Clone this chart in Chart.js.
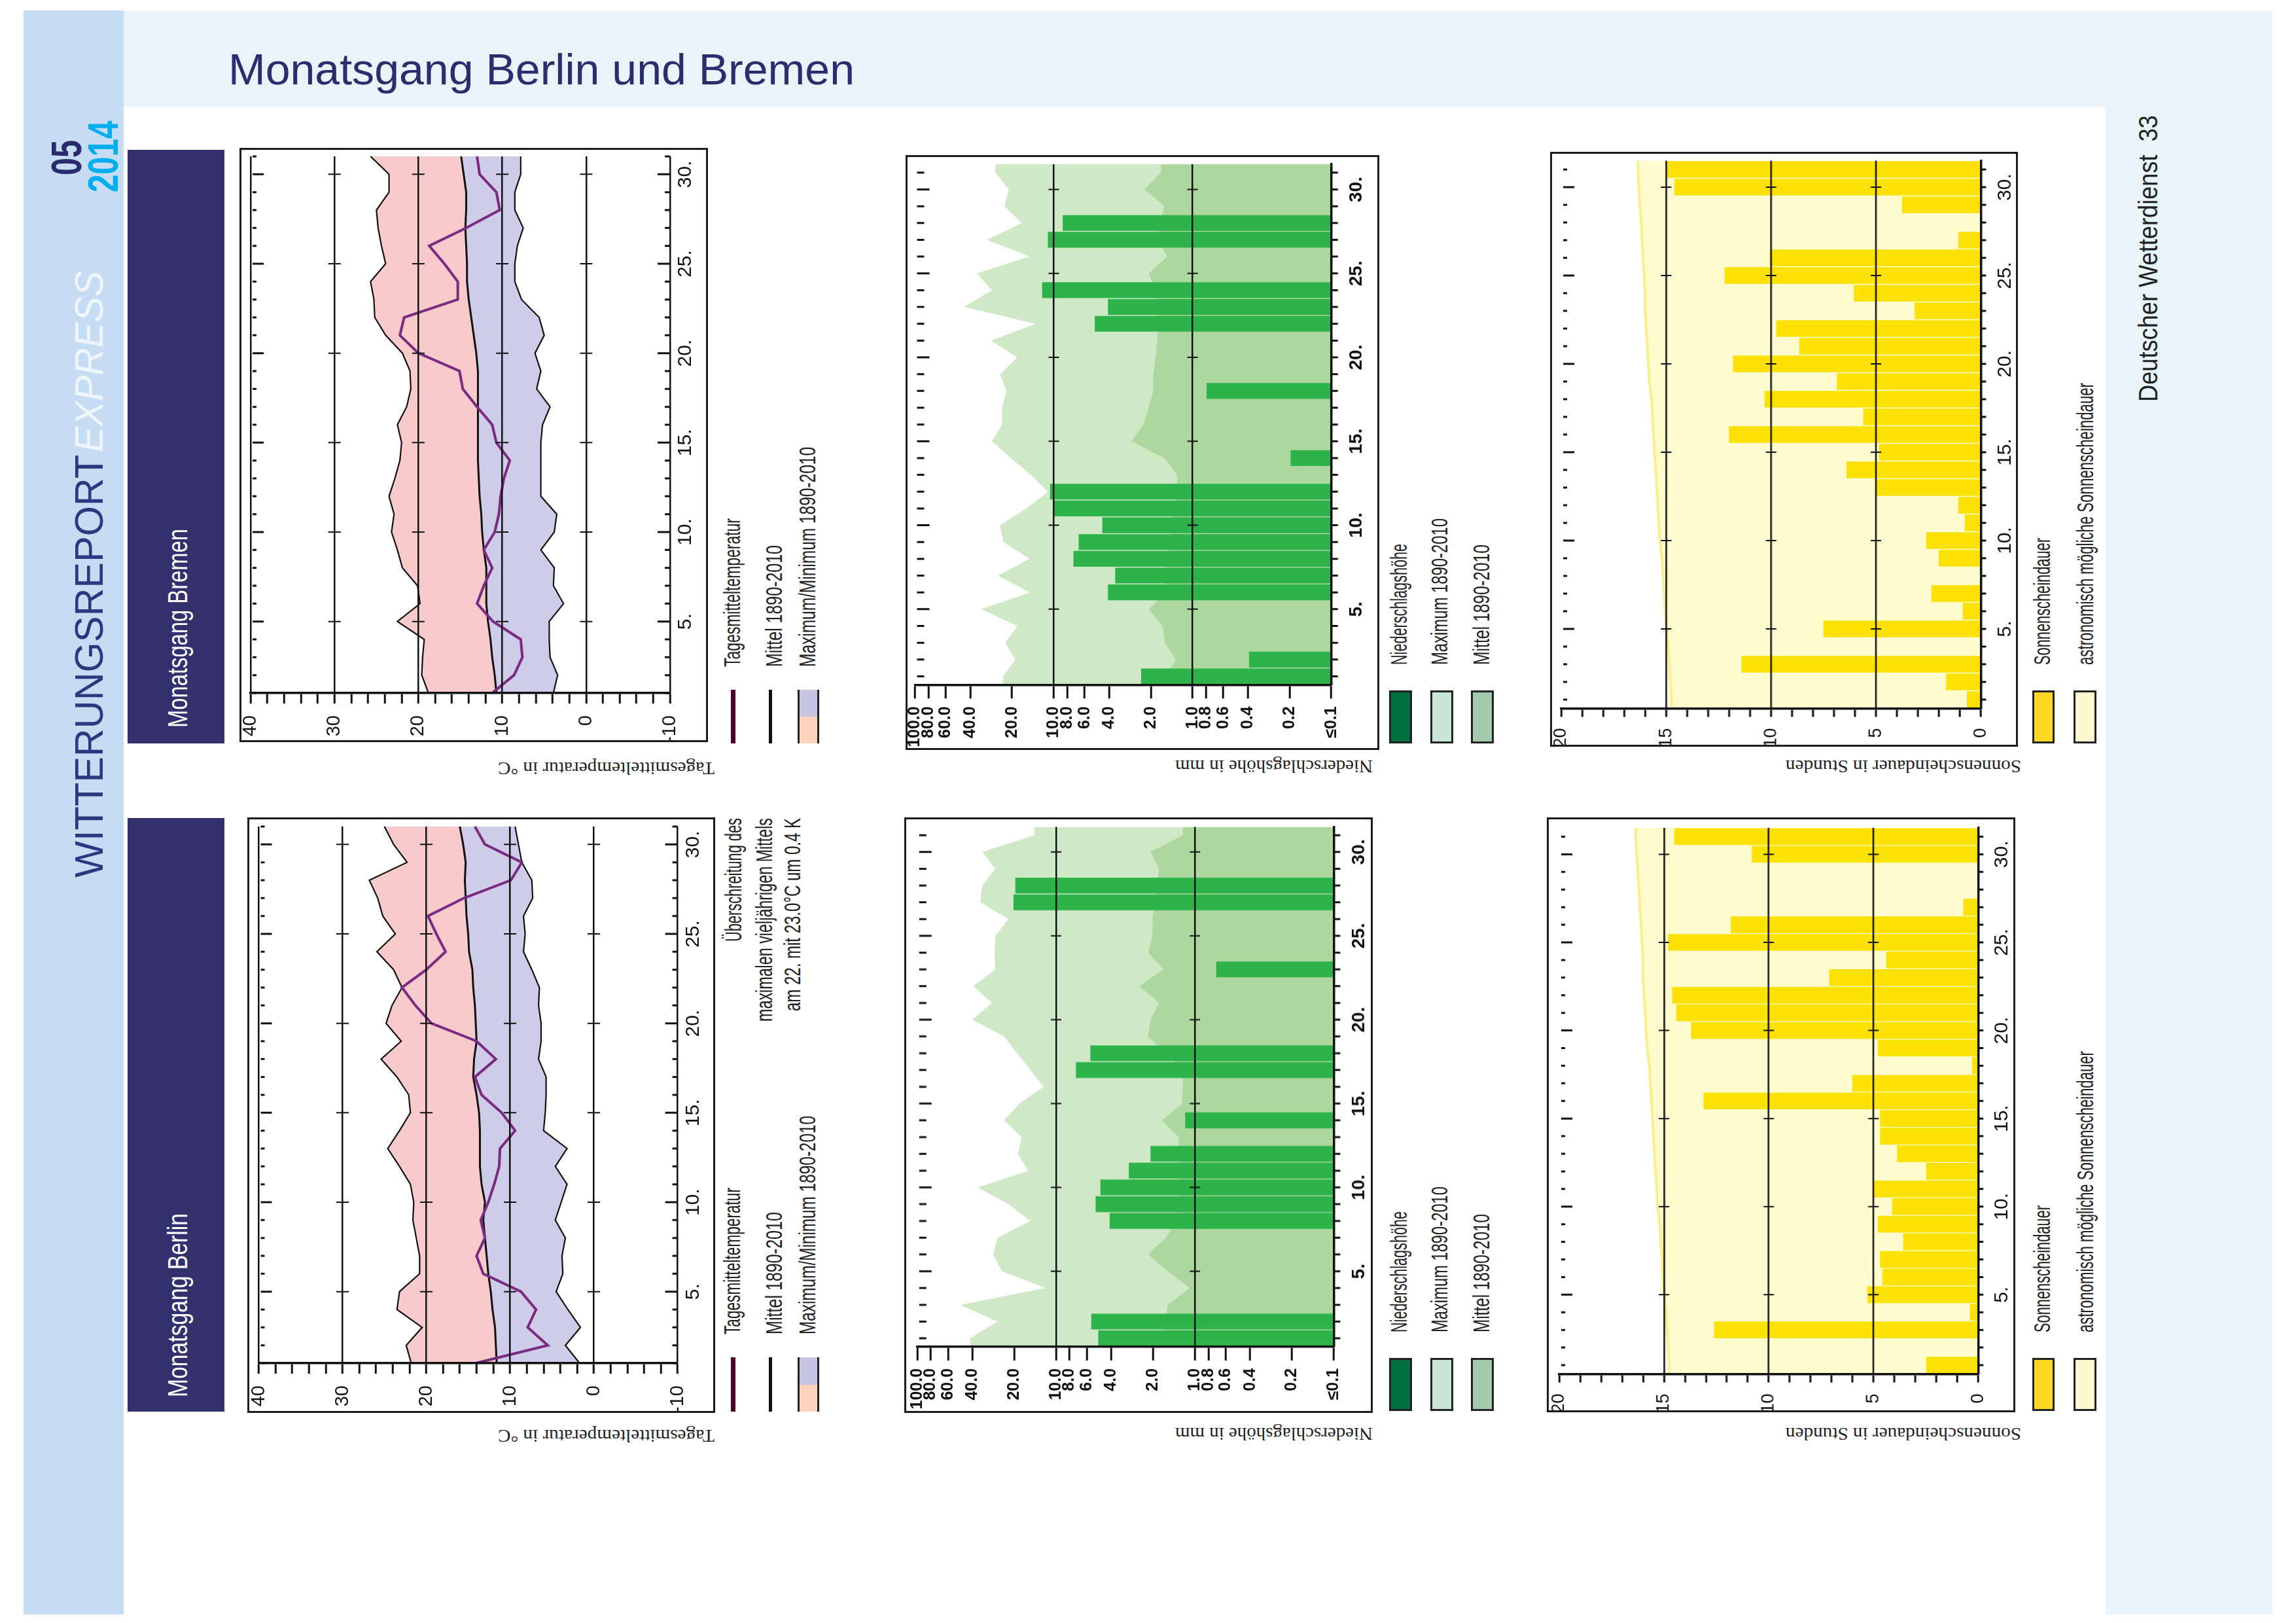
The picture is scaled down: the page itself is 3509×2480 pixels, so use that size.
<!DOCTYPE html>
<html lang="de"><head><meta charset="utf-8"><title>Monatsgang Berlin und Bremen</title>
<script src="https://cdn.jsdelivr.net/npm/chart.js@4"></script>
<style>
html,body{margin:0;padding:0;background:#fff;width:3509px;height:2480px;overflow:hidden}
#page{position:relative;width:3509px;height:2480px;overflow:hidden}
.r{position:absolute}
.t{position:absolute;white-space:pre;line-height:1;transform-origin:0 0}
canvas{position:absolute;display:block}
</style></head><body><div id="page"></div>
<script>
// ---------- data ----------
const days=[1,2,3,4,5,6,7,8,9,10,11,12,13,14,15,16,17,18,19,20,21,22,23,24,25,26,27,28,29,30,31];
const dayLabels={5:'5.',10:'10.',15:'15.',20:'20.',25:'25.',30:'30.'};
const tempTickLabels={40:'40',30:'30',20:'20',10:'10',0:'0','-10':'-10'};
const precipTicks=[0.1,0.2,0.4,0.6,0.8,1,2,4,6,8,10,20,40,60,80,100];
const precipTickLabels=['≤0.1','0.2','0.4','0.6','0.8','1.0','2.0','4.0','6.0','8.0','10.0','20.0','40.0','60.0','80.0','100.0'];
const sunTickLabels={0:'0',5:'5',10:'10',15:'15',20:'20'};

const bremenTempMax=[18.8,19.6,19.5,19.3,22.5,19.8,20.1,21.9,22.5,23.2,22.9,23.5,22.8,22.2,22.0,22.5,21.4,20.9,21.0,21.9,23.9,25.2,25.3,25.7,23.9,24.4,24.8,25.0,23.5,23.5,25.7];
const bremenTempMin=[3.9,3.4,4.3,4.4,4.4,2.7,3.9,3.8,5.4,3.8,3.5,5.4,5.4,5.4,5.4,5.2,4.3,5.9,5.4,6.1,5.0,5.6,7.7,8.5,8.5,8.2,7.5,8.5,8.5,7.8,7.8];
const bremenTempMean=[10.7,10.9,11.2,11.4,11.7,11.9,11.9,11.9,12.2,12.4,12.5,12.7,12.8,12.9,12.9,12.9,12.9,12.9,12.9,13.1,13.4,13.7,14.0,14.2,14.2,14.3,14.4,14.3,14.3,14.6,14.9];
const bremenTempDay=[11.2,8.6,7.6,7.8,11.1,13.0,12.2,11.2,12.2,10.9,10.4,10.2,9.8,9.1,10.7,11.2,13.0,14.7,15.1,20.0,22.2,21.7,15.3,15.3,16.9,18.7,14.3,10.3,10.7,12.7,13.0];

const berlinTempMax=[21.8,22.4,20.5,23.5,23.2,20.8,20.8,21.2,21.6,21.5,21.9,23.2,24.6,23.2,21.9,22.1,23.5,25.4,23.0,24.8,24.1,22.9,23.9,25.9,23.7,25.2,25.8,26.8,22.3,23.9,25.0];
const berlinTempMin=[1.7,3.4,1.6,3.1,4.5,3.7,3.8,3.4,4.6,3.9,3.2,4.6,3.2,6.0,5.8,5.7,5.7,6.6,6.3,6.3,6.6,6.5,7.4,8.4,8.2,8.4,7.3,7.4,8.6,9.0,9.4];
const berlinTempMean=[11.6,11.7,11.8,12.1,12.3,12.6,12.8,13.0,13.2,13.0,13.4,13.6,13.6,13.6,13.7,14.0,14.4,14.3,14.0,14.1,14.2,14.4,14.5,14.9,15.0,15.2,15.3,15.4,15.3,15.6,16.0];
const berlinTempDay=[14.1,5.5,7.9,6.9,8.7,13.2,14.0,13.0,13.5,12.6,11.9,11.3,11.2,9.4,11.0,13.4,14.2,11.7,14.0,19.4,21.3,22.9,20.0,17.7,18.8,19.8,15.5,9.9,8.6,13.0,14.2];

const bremenPrecip=[2.34,0.39,0.1,0.1,0.1,4.06,3.6,7.2,6.6,4.46,10.1,10.6,0.1,0.196,0.1,0.1,0.1,0.79,0.1,0.1,0.1,5.05,4.06,12.1,0.1,0.1,11,8.6,0.1,0.1,0.1];
const bremenPrecipMax=[23.2,19.0,22.4,18.3,33.4,14.9,25.3,14.9,23.1,24.4,15.8,11.0,14.7,20.4,27.9,23.6,23.6,21.9,24.4,18.3,28.3,13.5,44.3,27.9,35.9,14.9,30.4,17.0,22.7,21.1,26.3];
const bremenPrecipMean=[1.55,1.32,1.58,1.64,2.07,1.55,1.6,1.55,1.44,1.44,1.34,1.29,1.29,1.6,2.76,2.26,2.07,1.92,1.92,1.85,1.79,1.79,1.79,1.85,2.07,1.52,1.79,1.72,1.6,2.22,1.69];

const berlinPrecip=[4.95,5.56,0.1,0.1,0.1,0.1,0.1,4.1,5.17,4.78,2.98,2.08,0.1,1.17,0.1,0.1,7.17,5.64,0.1,0.1,0.1,0.1,0.7,0.1,0.1,0.1,20.2,19.6,0.1,0.1,0.1];
const berlinPrecipMax=[41.6,26.4,48.9,11.9,24.5,28.4,26.4,15.3,22.0,36.6,15.9,18.8,17.7,23.7,18.4,12.3,15.3,19.1,23.7,40.2,29.0,39.3,27.4,27.8,27.4,22.0,35.2,34.0,27.4,34.0,14.3];
const berlinPrecipMean=[1.62,1.62,1.57,1.09,1.57,2.17,1.62,1.36,1.31,1.31,1.31,1.31,1.31,1.72,1.24,1.22,1.22,1.62,2.17,2.09,1.81,2.51,1.68,2.17,2.02,2.02,1.95,1.88,1.81,2.09,1.22];

const bremenSun=[0.66,1.65,11.4,0,7.5,0.86,2.35,0,2.0,2.6,0.76,1.06,5.0,6.4,4.85,12.0,5.6,10.3,6.85,11.8,8.65,9.75,3.15,6.05,12.2,10.05,1.06,0,3.75,14.6,15.0];
const berlinSun=[2.47,0,12.6,0.38,5.28,4.56,4.68,3.57,4.78,4.1,5.02,2.47,3.86,4.68,4.68,13.1,6.0,0.28,4.78,13.7,14.4,14.6,7.1,4.38,14.8,11.8,0.7,0,0,10.8,14.5];
const astroSun=[14.75,14.8,14.85,14.9,15.0,15.05,15.1,15.15,15.2,15.3,15.35,15.4,15.45,15.5,15.55,15.6,15.65,15.7,15.8,15.85,15.9,15.95,16.0,16.0,16.05,16.1,16.15,16.2,16.25,16.3,16.35];

// ---------- page furniture ----------
const page=document.getElementById('page');
const NARROW='"Liberation Sans Narrow","Liberation Sans",sans-serif';
const SANS='"Liberation Sans",sans-serif';
const SERIF='"Liberation Serif",serif';
function box(l,t,r,b,css){const d=document.createElement('div');d.className='r';d.style.cssText=`left:${l}px;top:${t}px;width:${r-l}px;height:${b-t}px;`+(css||'');page.appendChild(d);return d;}
function mk(str,fs,font,color,extra){const s=document.createElement('span');s.className='t';s.textContent=str;s.style.cssText=`font:${extra&&extra.weight||400} ${fs}px ${font};color:${color};`+(extra&&extra.style?`font-style:${extra.style};`:'');page.appendChild(s);return s;}
// vertical text, reading upward, fitted between yBottom and yTop, centred on cx
function vt(str,cx,yBottom,yTop,fs,font,color,extra){const s=mk(str,fs,font,color,extra);const k=(yBottom-yTop)/s.getBoundingClientRect().width;
 s.style.left=cx+'px';s.style.top=yBottom+'px';s.style.transform=`rotate(-90deg) scaleX(${k}) translateY(-50%)`;}
// upside-down text (as printed in the source), from xRight to xLeft
function ut(str,xRight,xLeft,cy,fs,font,color){const s=mk(str,fs,font,color);const k=(xRight-xLeft)/s.getBoundingClientRect().width;
 s.style.left=xRight+'px';s.style.top=cy+'px';s.style.transform=`rotate(180deg) scaleX(${k}) translateY(-50%)`;}
function ht(str,xLeft,xRight,cy,fs,font,color){const s=mk(str,fs,font,color);const k=(xRight-xLeft)/s.getBoundingClientRect().width;
 s.style.left=xLeft+'px';s.style.top=cy+'px';s.style.transform=`scaleX(${k}) translateY(-50%)`;}

box(36,16,189,2467,'background:#c6dcf3');
box(189,16,3473,163,'background:#e8f4fa');
box(3218,163,3473,2467,'background:#e8f4fa');
ht('Monatsgang Berlin und Bremen',349,1306,105,67,SANS,'#2b2d6e');
vt('05',102,267.5,213.5,64,SANS,'#2a2a6c',{weight:700});
vt('2014',158,294,184.5,64,SANS,'#00aeef',{weight:700});
vt('WITTERUNGSREPORT',135,1341,695,62,SANS,'#2b3a80');
vt('EXPRESS',135,691,414,62,SANS,'#eef5fc',{style:'italic'});
vt('Deutscher Wetterdienst  33',3283,614,176,41,SANS,'#222');
box(195,229,343,1136,'background:#33306e');
box(195,1250,343,2157,'background:#33306e');
vt('Monatsgang Bremen',272,1112,808,42,NARROW,'#fff');
vt('Monatsgang Berlin',272,2135,1854,42,NARROW,'#fff');

// ---------- chart factory ----------
function stubsPlugin(cfg){return {id:'stubs',afterDatasetsDraw(ch){
 const c=ch.ctx,a=ch.chartArea,y=ch.scales.y,x=ch.scales.x;c.save();c.strokeStyle='#111';
 days.forEach(d=>{const p=y.getPixelForValue(d),maj=d%5===0;
  c.lineWidth=3;c.beginPath();
  c.moveTo(a.left+cfg.leftGap,p);c.lineTo(a.left+cfg.leftGap+(maj?cfg.leftMaj:cfg.leftMin),p);
  if(cfg.rightOut){c.moveTo(a.right,p);c.lineTo(a.right+cfg.rightOut,p);}
  else{c.moveTo(a.right,p);c.lineTo(a.right-(maj?cfg.rightMaj:cfg.rightMin),p);}
  c.stroke();
  if(maj){c.lineWidth=2;c.beginPath();cfg.cross.forEach(v=>{const q=x.getPixelForValue(v);c.moveTo(q-cfg.crossLen,p);c.lineTo(q+cfg.crossLen,p);});c.stroke();}
 });c.restore();}};}

function makeChart(f,p,spec){
 const cv=document.createElement('canvas');const W=f.r-f.l,H=f.b-f.t;
 cv.width=W;cv.height=H;cv.style.cssText=`left:${f.l}px;top:${f.t}px;width:${W}px;height:${H}px`;page.appendChild(cv);
 box(f.l-1.5,f.t-1.5,f.r+1.5,f.b+1.5,'box-sizing:border-box;border:3.5px solid #1c1c1c');
 new Chart(cv,{type:'bar',data:{datasets:spec.datasets},plugins:[stubsPlugin(spec.stubs)],options:{
  indexAxis:'y',responsive:false,animation:false,devicePixelRatio:1,
  layout:{autoPadding:false,padding:{left:p.l-f.l,top:p.t-f.t,right:0,bottom:0}},
  plugins:{legend:{display:false},tooltip:{enabled:false},title:{display:false}},
  elements:{point:{radius:0},line:{tension:0}},
  scales:{
   x:Object.assign({position:'bottom',reverse:true,offset:false,afterFit(s){s.height=f.b-p.b;s.paddingLeft=0;s.paddingRight=0;s.paddingTop=0;s.paddingBottom=0;},
     border:{display:true,color:'#111',width:3.5,z:2}},spec.x),
   y:{type:'linear',position:'right',offset:false,min:spec.dayMin,max:spec.dayMax,afterFit(s){s.width=f.r-p.r;s.paddingLeft=0;s.paddingRight=0;s.paddingTop=0;s.paddingBottom=0;},
     afterBuildTicks(s){s.ticks=days.map(v=>({value:v}));},
     grid:{display:false,drawTicks:false,offset:false},border:{display:!!spec.stubs.rightOut,color:'#111',width:3.5,z:2},
     ticks:{autoSkip:false,minRotation:90,maxRotation:90,crossAlign:'center',padding:spec.dayPad,
       color:'#111',font:{family:NARROW,size:spec.dayFont,weight:spec.bold?'bold':'normal'},callback:v=>dayLabels[v]||''}}
  }}});
}
const pts=(vals)=>days.map((d,i)=>({x:vals[i],y:d}));
const ptsEnds=(vals)=>[{x:vals[0],y:0.5},...pts(vals),{x:vals[30],y:31.5}];
const lineDs=(data,extra)=>Object.assign({type:'line',indexAxis:'y',data,pointRadius:0,tension:0,clip:false},extra);

function tempSpec(maxA,minA,meanA,dayA){return {
 dayMin:1,dayMax:31,dayPad:3,dayFont:30,
 stubs:{leftGap:3,leftMin:6,leftMaj:17,rightMin:8,rightMaj:19,cross:[30,20,10,0],crossLen:9.5},
 x:{type:'linear',min:-10,max:40,
   afterBuildTicks(s){s.ticks=[];for(const v of [-10,-8,-6,-4,-2,0,2,4,6,8,10,12,14,16,18,20,22,24,26,28,30,32,34,36,38,40])s.ticks.push({value:v});},
   grid:{z:1,lineWidth:2.5,tickLength:16,tickWidth:3,tickColor:'#111',color:c=>c.tick&&c.tick.value%10===0?'#111':'rgba(0,0,0,0)'},
   ticks:{autoSkip:false,minRotation:90,maxRotation:90,padding:18,color:'#111',font:{family:NARROW,size:29},callback:v=>tempTickLabels[v]||''}},
 datasets:[
  lineDs(pts(dayA),{order:0,borderColor:'#7a2a80',borderWidth:4,fill:false}),
  lineDs(pts(meanA),{order:1,borderColor:'#111',borderWidth:3,fill:false}),
  lineDs(pts(maxA),{order:2,borderColor:'#111',borderWidth:2.2,backgroundColor:'#f9cacb',fill:1}),
  lineDs(pts(minA),{order:2,borderColor:'#111',borderWidth:2.2,backgroundColor:'#cecce8',fill:1})
 ]};}
function precipSpec(barsA,maxA,meanA){return {
 dayMin:0.5,dayMax:31.5,dayPad:19,dayFont:28,bold:true,
 stubs:{leftGap:3,leftMin:11,leftMaj:19,rightOut:10,cross:[10,1],crossLen:8},
 x:{type:'logarithmic',min:0.1,max:100,
   afterBuildTicks(s){s.ticks=precipTicks.map(v=>({value:v}));},
   grid:{z:1,lineWidth:2.5,tickLength:21,tickWidth:3,tickColor:'#111',color:c=>c.tick&&(c.tick.value===1||c.tick.value===10)?'#111':'rgba(0,0,0,0)'},
   ticks:{autoSkip:false,minRotation:90,maxRotation:90,padding:12,color:'#111',font:{family:NARROW,size:25,weight:'bold'},
     callback:v=>{const i=precipTicks.indexOf(v);return i<0?'':precipTickLabels[i];}}},
 datasets:[
  {type:'bar',indexAxis:'y',order:0,data:pts(barsA),base:0.1,backgroundColor:'#2eb34a',borderWidth:0,barThickness:23.5,grouped:false},
  lineDs(ptsEnds(meanA),{order:1,borderWidth:0,backgroundColor:'#acd79e',fill:{value:0.1}}),
  lineDs(ptsEnds(maxA),{order:2,borderWidth:0,backgroundColor:'#cfe8c5',fill:{value:0.1}})
 ]};}
function sunSpec(barsA,astroA){return {
 dayMin:0.5,dayMax:31.5,dayPad:16,dayFont:30,
 stubs:{leftGap:3,leftMin:6,leftMaj:17,rightOut:8,cross:[15,10,5],crossLen:8},
 x:{type:'linear',min:0,max:20,
   afterBuildTicks(s){s.ticks=[];for(const v of [0,1,2,3,4,5,6,7,8,9,10,11,12,13,14,15,16,17,18,19,20])s.ticks.push({value:v});},
   grid:{z:1,lineWidth:2.5,tickLength:13,tickWidth:3,tickColor:'#111',color:c=>c.tick&&c.tick.value%5===0&&c.tick.value>0&&c.tick.value<20?'#111':'rgba(0,0,0,0)'},
   ticks:{autoSkip:false,minRotation:90,maxRotation:90,padding:17,color:'#111',font:{family:NARROW,size:27},callback:v=>sunTickLabels[v]||''}},
 datasets:[
  {type:'bar',indexAxis:'y',order:0,data:pts(barsA),base:0,backgroundColor:'#fbe104',borderWidth:0,barThickness:25,grouped:false},
  lineDs(ptsEnds(astroA),{order:1,borderColor:'#f9ef8a',borderWidth:4,backgroundColor:'#fefccf',fill:{value:0}})
 ]};}

// Bremen row
makeChart({l:367,t:227,r:1080,b:1132},{l:383,r:1024,t:239,b:1059},tempSpec(bremenTempMax,bremenTempMin,bremenTempMean,bremenTempDay));
makeChart({l:1385,t:238,r:2106,b:1144},{l:1398.5,r:2034.7,t:251,b:1046.3},precipSpec(bremenPrecip,bremenPrecipMax,bremenPrecipMean));
makeChart({l:2370,t:233,r:3082.5,b:1139},{l:2386,r:3027,t:245.5,b:1082.5},sunSpec(bremenSun,astroSun));
// Berlin row
makeChart({l:379,t:1250,r:1091,b:2157},{l:395.5,r:1035.6,t:1263,b:2083},tempSpec(berlinTempMax,berlinTempMin,berlinTempMean,berlinTempDay));
makeChart({l:1383,t:1250,r:2096.4,b:2157.5},{l:1401.8,r:2038.8,t:1263.4,b:2057.4},precipSpec(berlinPrecip,berlinPrecipMax,berlinPrecipMean));
makeChart({l:2365,t:1250.5,r:3078.7,b:2156},{l:2383,r:3023,t:1264.5,b:2099.5},sunSpec(berlinSun,astroSun));

// ---------- axis titles ----------
ut('Tagesmitteltemperatur in °C',1092,761,1174,28,SERIF,'#222');
ut('Tagesmitteltemperatur in °C',1092,761,2194,28,SERIF,'#222');
ut('Niederschlagshöhe in mm',2098,1796,1171,28,SERIF,'#222');
ut('Niederschlagshöhe in mm',2098,1796,2191,28,SERIF,'#222');
ut('Sonnenscheindauer in Stunden',3089,2729,1171,28,SERIF,'#222');
ut('Sonnenscheindauer in Stunden',3089,2729,2191,28,SERIF,'#222');

// ---------- legends ----------
function tempLegend(t,b,tb,t1,t2,t3){
 box(1117,t,1124,b,'background:#4d0028');
 box(1175,t,1180,b,'background:#111');
 const m=(t+b)/2;
 box(1219,t,1252,m,'background:#c6c3e3;border-left:3px solid #222;border-right:3px solid #222;box-sizing:border-box');
 box(1219,m,1252,b,'background:#fcd2bb;border-left:3px solid #222;border-right:3px solid #222;box-sizing:border-box');
 vt('Tagesmitteltemperatur',1119,tb,t1,35,NARROW,'#222');
 vt('Mittel 1890-2010',1183,tb,t2,35,NARROW,'#222');
 vt('Maximum/Minimum 1890-2010',1234,tb,t3,35,NARROW,'#222');
}
tempLegend(1054,1136,1019,792,833,683);
tempLegend(2074,2157,2039,1815,1852,1705);
vt('Überschreitung des',1121,1439,1250,35,NARROW,'#222');
vt('maximalen vieljährigen Mittels',1168,1561,1250,35,NARROW,'#222');
vt('am 22. mit 23.0°C um 0.4 K',1211,1545,1250,35,NARROW,'#222');

function precipLegend(t,b,tb,t1,t2,t3){
 const st='box-sizing:border-box;border:3px solid #222;';
 box(2123,t,2158,b,st+'background:#007040');
 box(2186,t,2221,b,st+'background:#c9e6d5');
 box(2248,t,2283,b,st+'background:#a3c9ac');
 vt('Niederschlagshöhe',2138,tb,t1,35,NARROW,'#222');
 vt('Maximum 1890-2010',2200,tb,t2,35,NARROW,'#222');
 vt('Mittel 1890-2010',2264,tb,t3,35,NARROW,'#222');
}
precipLegend(1054.5,1135.5,1016,831,792,832);
precipLegend(2074.5,2155.5,2036,1851,1813,1855);

function sunLegend(t,b,tb,t1,t2){
 const st='box-sizing:border-box;border:3px solid #222;';
 box(3105.5,t,3140,b,st+'background:#fdd722');
 box(3169,t,3204,b,st+'background:#fff7d0');
 vt('Sonnenscheindauer',3121,tb,t1,35,NARROW,'#222');
 vt('astronomisch mögliche Sonnenscheindauer',3187,tb,t2,35,NARROW,'#222');
}
sunLegend(1054.5,1135.5,1016,822,585);
sunLegend(2074.5,2155.5,2036,1842,1606);
</script></body></html>
